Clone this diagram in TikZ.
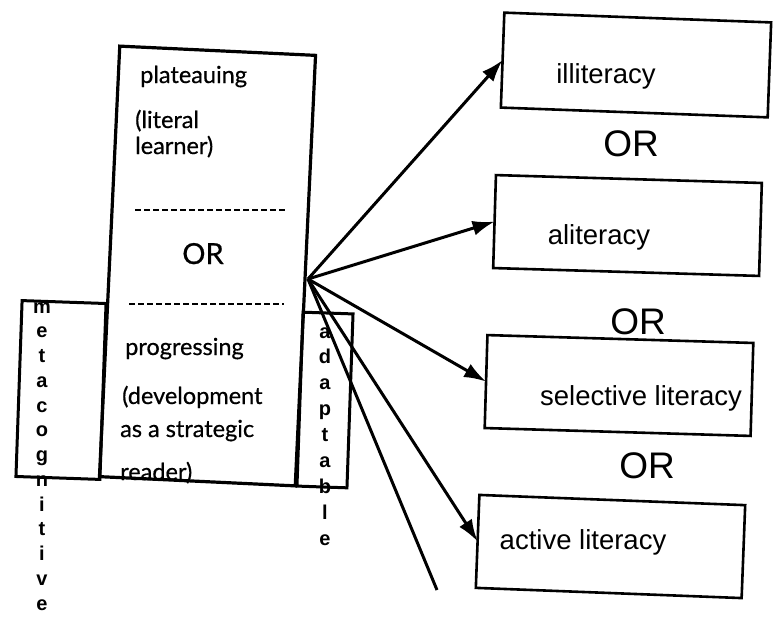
\documentclass[tikz,border=0pt]{standalone}
\usepackage{fontspec}
\setmainfont{Liberation Sans}
\newfontfamily\humfont[FakeBold=0.6]{Lato}
\usetikzlibrary{arrows.meta}
\begin{document}
\begin{tikzpicture}[x=1pt,y=-1pt,
  frame/.style={draw, line width=3pt, inner sep=0pt, outer sep=0pt},
  choice/.style={draw, line width=2.6pt, inner sep=0pt, outer sep=0pt,
    minimum width=266pt, minimum height=93pt},
  lbl/.style={font=\fontsize{27.5}{30}\selectfont, inner sep=0pt},
  orword/.style={font=\fontsize{37}{40}\selectfont, inner sep=0pt},
  stage/.style={font=\humfont\fontsize{23.5}{26}\selectfont, inner sep=0pt, anchor=base west},
  vletter/.style={font=\bfseries\fontsize{20}{20}\selectfont, inner sep=0pt, anchor=base},
  sep/.style={line width=2.2pt, dash pattern=on 6pt off 3pt},
  link/.style={line width=3pt, -{Latex[length=22pt,width=15pt]}},
]
\useasboundingbox (0,0) rectangle (773,626);

% side panels behind the central column
\node[frame, minimum width=84pt, minimum height=176pt, rotate=-2] (meta) at (61,390) {};
\node[frame, minimum width=50pt, minimum height=174pt, rotate=-2] (adapt) at (325,400) {};

% central column
\node[frame, line width=3.2pt, minimum width=196pt, minimum height=431pt, rotate=-2.7] (main) at (207.5,266) {};

\node[stage] (plat) at (140,83) {plateauing};
\node[stage] (lit1) at (135,128) {(literal};
\node[stage] (lit2) at (135,154) {learner)};
\draw[sep] (135,210) -- (285,210);
\node[stage, anchor=base, font=\humfont\fontsize{29}{30}\selectfont] (mor) at (203,264) {OR};
\draw[sep] (129,304) -- (284,304);
\node[stage] (prog) at (125,355) {progressing};
\node[stage] (dev1) at (122,404) {(development};
\node[stage] (dev2) at (120,437) {as a strategic};
\node[stage] (dev3) at (120,480) {reader)};

% vertical labels
\foreach \ch [count=\i from 0] in {m,e,t,a,c,o,g,n,i,t,i,v,e}
  \node[vletter] (mc\i) at (42,313+24.75*\i) {\ch};
\foreach \ch [count=\i from 0] in {a,d,a,p,t,a,b,l,e}
  \node[vletter] (ad\i) at (325,338+25.9*\i) {\ch};

% outcome boxes
\node[choice, minimum width=267pt, minimum height=95pt, rotate=-2.1] (ill) at (636,65) {};
\node[choice, rotate=-1.7] (ali) at (627.5,225.5) {};
\node[choice, rotate=-1.7] (sel) at (619,385.5) {};
\node[choice, rotate=-2.2] (act) at (610.5,546.5) {};

\node[lbl] (tIll) at (606,76) {illiteracy};
\node[lbl] (tAli) at (599,237) {aliteracy};
\node[lbl] (tSel) at (641,398) {selective literacy};
\node[lbl] (tAct) at (583,542) {active literacy};

\node[orword] (or1) at (631,144) {OR};
\node[orword] (or2) at (638,322) {OR};
\node[orword] (or3) at (647,466) {OR};

% connectors
\coordinate (hub) at (308,279);
\coordinate (tail) at (437,590);
\draw[link] (hub) -- (ill.west);
\draw[link] (hub) -- (ali.west);
\draw[link] (hub) -- (sel.west);
\draw[link] (hub) -- (act.west);
\draw[line width=3pt] (hub) -- (tail);
\end{tikzpicture}
\end{document}
